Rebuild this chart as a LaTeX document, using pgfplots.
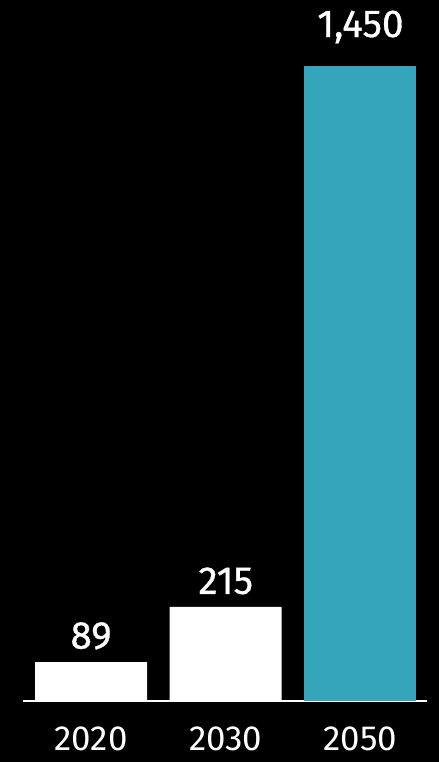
\documentclass[border=0pt]{standalone}
\usepackage{pgfplots}
\pgfplotsset{compat=1.18}
\usepackage{fontspec}
\setmainfont{Fira Sans}
\newfontfamily\valfont[FakeBold=0.8]{Fira Sans}
\definecolor{barteal}{RGB}{53,165,188}
\begin{document}
\begin{tikzpicture}
\fill[black] (0,0) rectangle (439bp,762bp);
\useasboundingbox (0,0) rectangle (439bp,762bp);
\begin{axis}[
  at={(23bp,61bp)}, anchor=south west,
  scale only axis, width=404bp, height=635bp,
  xmin=-0.505, xmax=2.494, ymin=0, ymax=1450,
  axis x line=bottom, axis y line=none,
  x axis line style={white, line width=1.5pt, -},
  xtick={0,1,2}, xticklabels={2020,2030,2050},
  major tick length=0pt, ytick=\empty,
  /pgf/number format/assume math mode=true,
  xticklabel style={white, font=\fontsize{35}{35}\selectfont, inner sep=0pt, yshift=-26bp},
  clip=false,
  ybar, bar width=112bp, bar shift=0pt,
  nodes near coords,
  nodes near coords style={white, font=\valfont\fontsize{39}{39}\selectfont, yshift=9bp},
]
\addplot[draw=none, fill=white] coordinates {(0,89) (1,215)};
\addplot[draw=none, fill=barteal, every node near coord/.append style={yshift=10bp}] coordinates {(2,1450)};
\end{axis}
\end{tikzpicture}
\end{document}
